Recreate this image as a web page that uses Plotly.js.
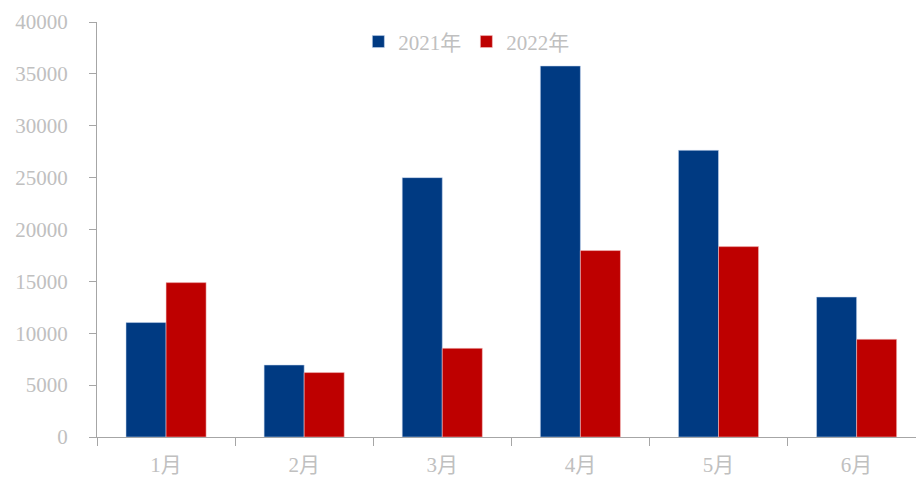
<!DOCTYPE html>
<html>
<head>
<meta charset="utf-8">
<script src="https://cdn.plot.ly/plotly-3.0.1.min.js"></script>
<style>html,body{margin:0;padding:0;background:#fff;}#chart{width:916px;height:478px;}</style>
</head>
<body>
<div id="chart"></div>
<script>
var months = ["1月", "2月", "3月", "4月", "5月", "6月"];
var series2021 = [11030, 6940, 25000, 35760, 27630, 13490];
var series2022 = [14880, 6210, 8550, 17970, 18350, 9420];
var seriesNames = ["2021年", "2022年"];
var yTicks = [0, 5000, 10000, 15000, 20000, 25000, 30000, 35000, 40000];

var fontFam = '"Liberation Serif", "Times New Roman", "Noto Sans CJK SC", serif';
var grey = '#c0c0c0';

var traces = [
  {type: 'bar', name: seriesNames[0], x: months, y: series2021,
   marker: {color: '#003a82', line: {color: 'rgba(200,215,240,0.9)', width: 0.6}}},
  {type: 'bar', name: seriesNames[1], x: months, y: series2022,
   marker: {color: '#be0000', line: {color: 'rgba(245,200,200,0.9)', width: 0.6}}}
];

var layout = {
  width: 916, height: 478,
  margin: {l: 97, r: 0, t: 22, b: 41, autoexpand: false},
  paper_bgcolor: '#fff', plot_bgcolor: '#fff',
  barmode: 'group', bargap: 0.42, bargroupgap: 0,
  showlegend: true,
  legend: {orientation: 'h', xref: 'paper', x: 0.451, xanchor: 'center',
           yref: 'paper', y: 0.952, yanchor: 'middle', bgcolor: 'rgba(0,0,0,0)',
           font: {family: fontFam, size: 21, color: grey}, itemwidth: 30, tracegroupgap: 0},
  font: {family: fontFam, size: 21, color: grey},
  xaxis: {type: 'category', range: [-0.5, 5.43], showgrid: false, zeroline: false,
          showline: true, linecolor: '#a6a6a6', linewidth: 1,
          ticks: 'outside', tickson: 'boundaries', ticklen: 8, tickcolor: '#a6a6a6',
          tickfont: {family: fontFam, size: 21, color: grey}, ticklabelstandoff: 9, fixedrange: true},
  yaxis: {range: [0, 40000], tickvals: yTicks, ticktext: yTicks.map(String),
          showgrid: false, zeroline: false, showline: true, linecolor: '#a6a6a6', linewidth: 1,
          ticks: 'outside', ticklen: 7, tickcolor: '#a6a6a6',
          tickfont: {family: fontFam, size: 21, color: grey}, ticklabelstandoff: 17, fixedrange: true}
};

Plotly.newPlot('chart', traces, layout, {displayModeBar: false, staticPlot: true});
</script>
</body>
</html>
